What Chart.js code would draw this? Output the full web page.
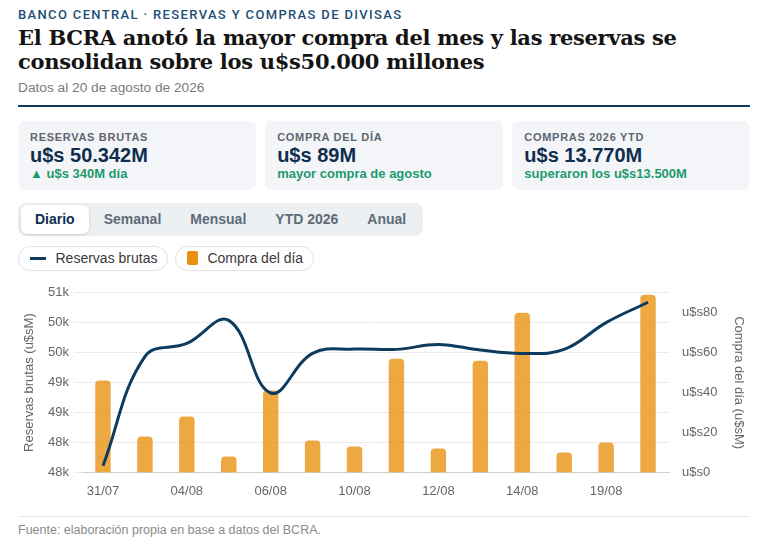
<!DOCTYPE html>
<html lang="es">
<head>
<meta charset="UTF-8">
<title>Reservas y compras BCRA</title>
<script src="https://cdn.jsdelivr.net/npm/chart.js"></script>
<style>
  html, body { margin: 0; padding: 0; background: #fff; }
  body { width: 765px; height: 547px; overflow: hidden; font-family: "Liberation Sans", Arial, sans-serif; }
  .wrap { padding: 7px 15px 0 18px; }
  .kicker { font-family: Roboto, "Liberation Sans", sans-serif; font-weight: 500; font-size: 13px; line-height: 16px; letter-spacing: 1.35px; text-transform: uppercase; color: #1d4f78; }
  h1 { margin: 3px 0 0; font-family: "DejaVu Serif", Georgia, serif; font-weight: bold; font-size: 21px; line-height: 24px; color: #141414; letter-spacing: -0.3px; }
  .sub { margin-top: 5.5px; font-size: 13.7px; line-height: 16px; color: #7b7b7b; padding-bottom: 9.5px; border-bottom: 2px solid #163a5c; }
  .cards { display: grid; grid-template-columns: 1fr 1fr 1fr; gap: 9.5px; margin-top: 13.5px; }
  .card { background: #f3f5f8; border-radius: 7px; padding: 9px 12px; height: 51px; }
  .card .lbl { font-size: 11px; line-height: 14px; font-weight: bold; letter-spacing: 0.7px; color: #5e6670; }
  .card .val { font-size: 20px; line-height: 22px; font-weight: bold; color: #0f2e4e; }
  .card .chg { font-size: 13px; line-height: 16px; font-weight: bold; color: #1d9a6c; }
  .tabs { display: inline-flex; margin-top: 13px; padding: 2px 2.5px; background: #edf0f3; border-radius: 8px; }
  .tab { font-size: 14px; font-weight: bold; line-height: 29px; padding: 0 14.5px; color: #5f6b78; border-radius: 6px; }
  .tab.on { background: #fff; color: #0f2e4e; box-shadow: 0 1px 3px rgba(0,0,0,0.15); }
  .legend { display: flex; gap: 7px; margin-top: 10px; }
  .pill { display: flex; align-items: center; height: 23px; border: 1px solid #dfe3e8; border-radius: 13px; padding: 0 10px 0 11px; font-size: 14px; color: #3a3a3a; }
  .sw-line { width: 16px; height: 3px; background: #0d3b5e; margin-right: 9.5px; }
  .sw-bar { width: 11px; height: 14px; border-radius: 2px; background: #e8920f; margin-right: 9px; }
  .chartbox { position: relative; width: 732px; height: 230px; margin-top: 9px; }
  .foot { margin-top: 6px; border-top: 1px solid #e6e6e6; padding-top: 6px; font-size: 12.5px; line-height: 15px; color: #8a8a8a; width: 732px; }
</style>
</head>
<body>
<div class="wrap">
  <div class="kicker">Banco Central · Reservas y compras de divisas</div>
  <h1>El BCRA anotó la mayor compra del mes y las reservas se consolidan sobre los u$s50.000 millones</h1>
  <div class="sub">Datos al 20 de agosto de 2026</div>
  <div class="cards">
    <div class="card"><div class="lbl">RESERVAS BRUTAS</div><div class="val">u$s 50.342M</div><div class="chg">▲ u$s 340M día</div></div>
    <div class="card"><div class="lbl">COMPRA DEL DÍA</div><div class="val">u$s 89M</div><div class="chg">mayor compra de agosto</div></div>
    <div class="card"><div class="lbl">COMPRAS 2026 YTD</div><div class="val">u$s 13.770M</div><div class="chg">superaron los u$s13.500M</div></div>
  </div>
  <div class="tabs">
    <div class="tab on">Diario</div><div class="tab">Semanal</div><div class="tab">Mensual</div><div class="tab">YTD 2026</div><div class="tab">Anual</div>
  </div>
  <div class="legend">
    <div class="pill"><span class="sw-line"></span>Reservas brutas</div>
    <div class="pill"><span class="sw-bar"></span>Compra del día</div>
  </div>
  <div class="chartbox"><canvas id="chart"></canvas></div>
  <div class="foot">Fuente: elaboración propia en base a datos del BCRA.</div>
</div>
<script>
  // Ruedas hábiles (17/08 feriado)
  const fechas = ['31/07', '03/08', '04/08', '05/08', '06/08', '07/08', '10/08',
                  '11/08', '12/08', '13/08', '14/08', '18/08', '19/08', '20/08'];

  // Reservas brutas, millones de u$s
  const reservas = [47610, 49435, 49654, 50040, 48826, 49488, 49560,
                    49555, 49637, 49543, 49488, 49555, 50002, 50342];

  // Compra del día, millones de u$s
  const compras = [46, 18, 28, 8, 41, 16, 13, 57, 12, 56, 80, 10, 15, 89];

  Chart.defaults.font.family = '"Liberation Sans", Arial, sans-serif';
  Chart.defaults.font.size = 13;
  Chart.defaults.color = '#666';

  const ctx = document.getElementById('chart').getContext('2d');
  new Chart(ctx, {
    type: 'bar',
    data: {
      labels: fechas,
      datasets: [{
        type: 'line',
        label: 'Reservas brutas',
        data: reservas,
        yAxisID: 'y',
        borderColor: '#0d3b5e',
        borderWidth: 3,
        tension: 0.4,
        pointRadius: 0,
        order: 0
      }, {
        type: 'bar',
        label: 'Compra del día',
        data: compras,
        yAxisID: 'y1',
        backgroundColor: 'rgba(232, 146, 18, 0.8)',
        borderRadius: 4,
        categoryPercentage: 0.8,
        barPercentage: 0.46,
        order: 1
      }]
    },
    options: {
      responsive: true,
      maintainAspectRatio: false,
      animation: false,
      layout: { padding: { top: 10, bottom: 8 } },
      plugins: { legend: { display: false }, tooltip: { enabled: false } },
      scales: {
        x: {
          grid: { display: false },
          border: { color: '#d0d0d0' },
          ticks: {
            autoSkip: false,
            maxRotation: 0,
            padding: 3,
            callback: (v, i) => i % 2 === 0 ? fechas[i] : ''
          }
        },
        y: {
          position: 'left',
          min: 47500,
          max: 50500,
          border: { display: false },
          grid: { color: '#ebebeb' },
          ticks: { stepSize: 500, padding: 5, callback: v => Math.round(v / 1000) + 'k' },
          title: { display: true, text: 'Reservas brutas (u$sM)', font: { size: 13 }, padding: { top: 4, bottom: 8 } },
          afterFit: s => { s.width = 64; }
        },
        y1: {
          position: 'right',
          min: 0,
          max: 90,
          border: { display: false },
          grid: { drawOnChartArea: false, display: false },
          ticks: { stepSize: 20, padding: 5, callback: v => v % 20 === 0 ? 'u$s' + v : '' },
          title: { display: true, text: 'Compra del día (u$sM)', font: { size: 13 }, padding: { top: 4, bottom: 8 } },
          afterFit: s => { s.width = 81; }
        }
      }
    }
  });
</script>
</body>
</html>
